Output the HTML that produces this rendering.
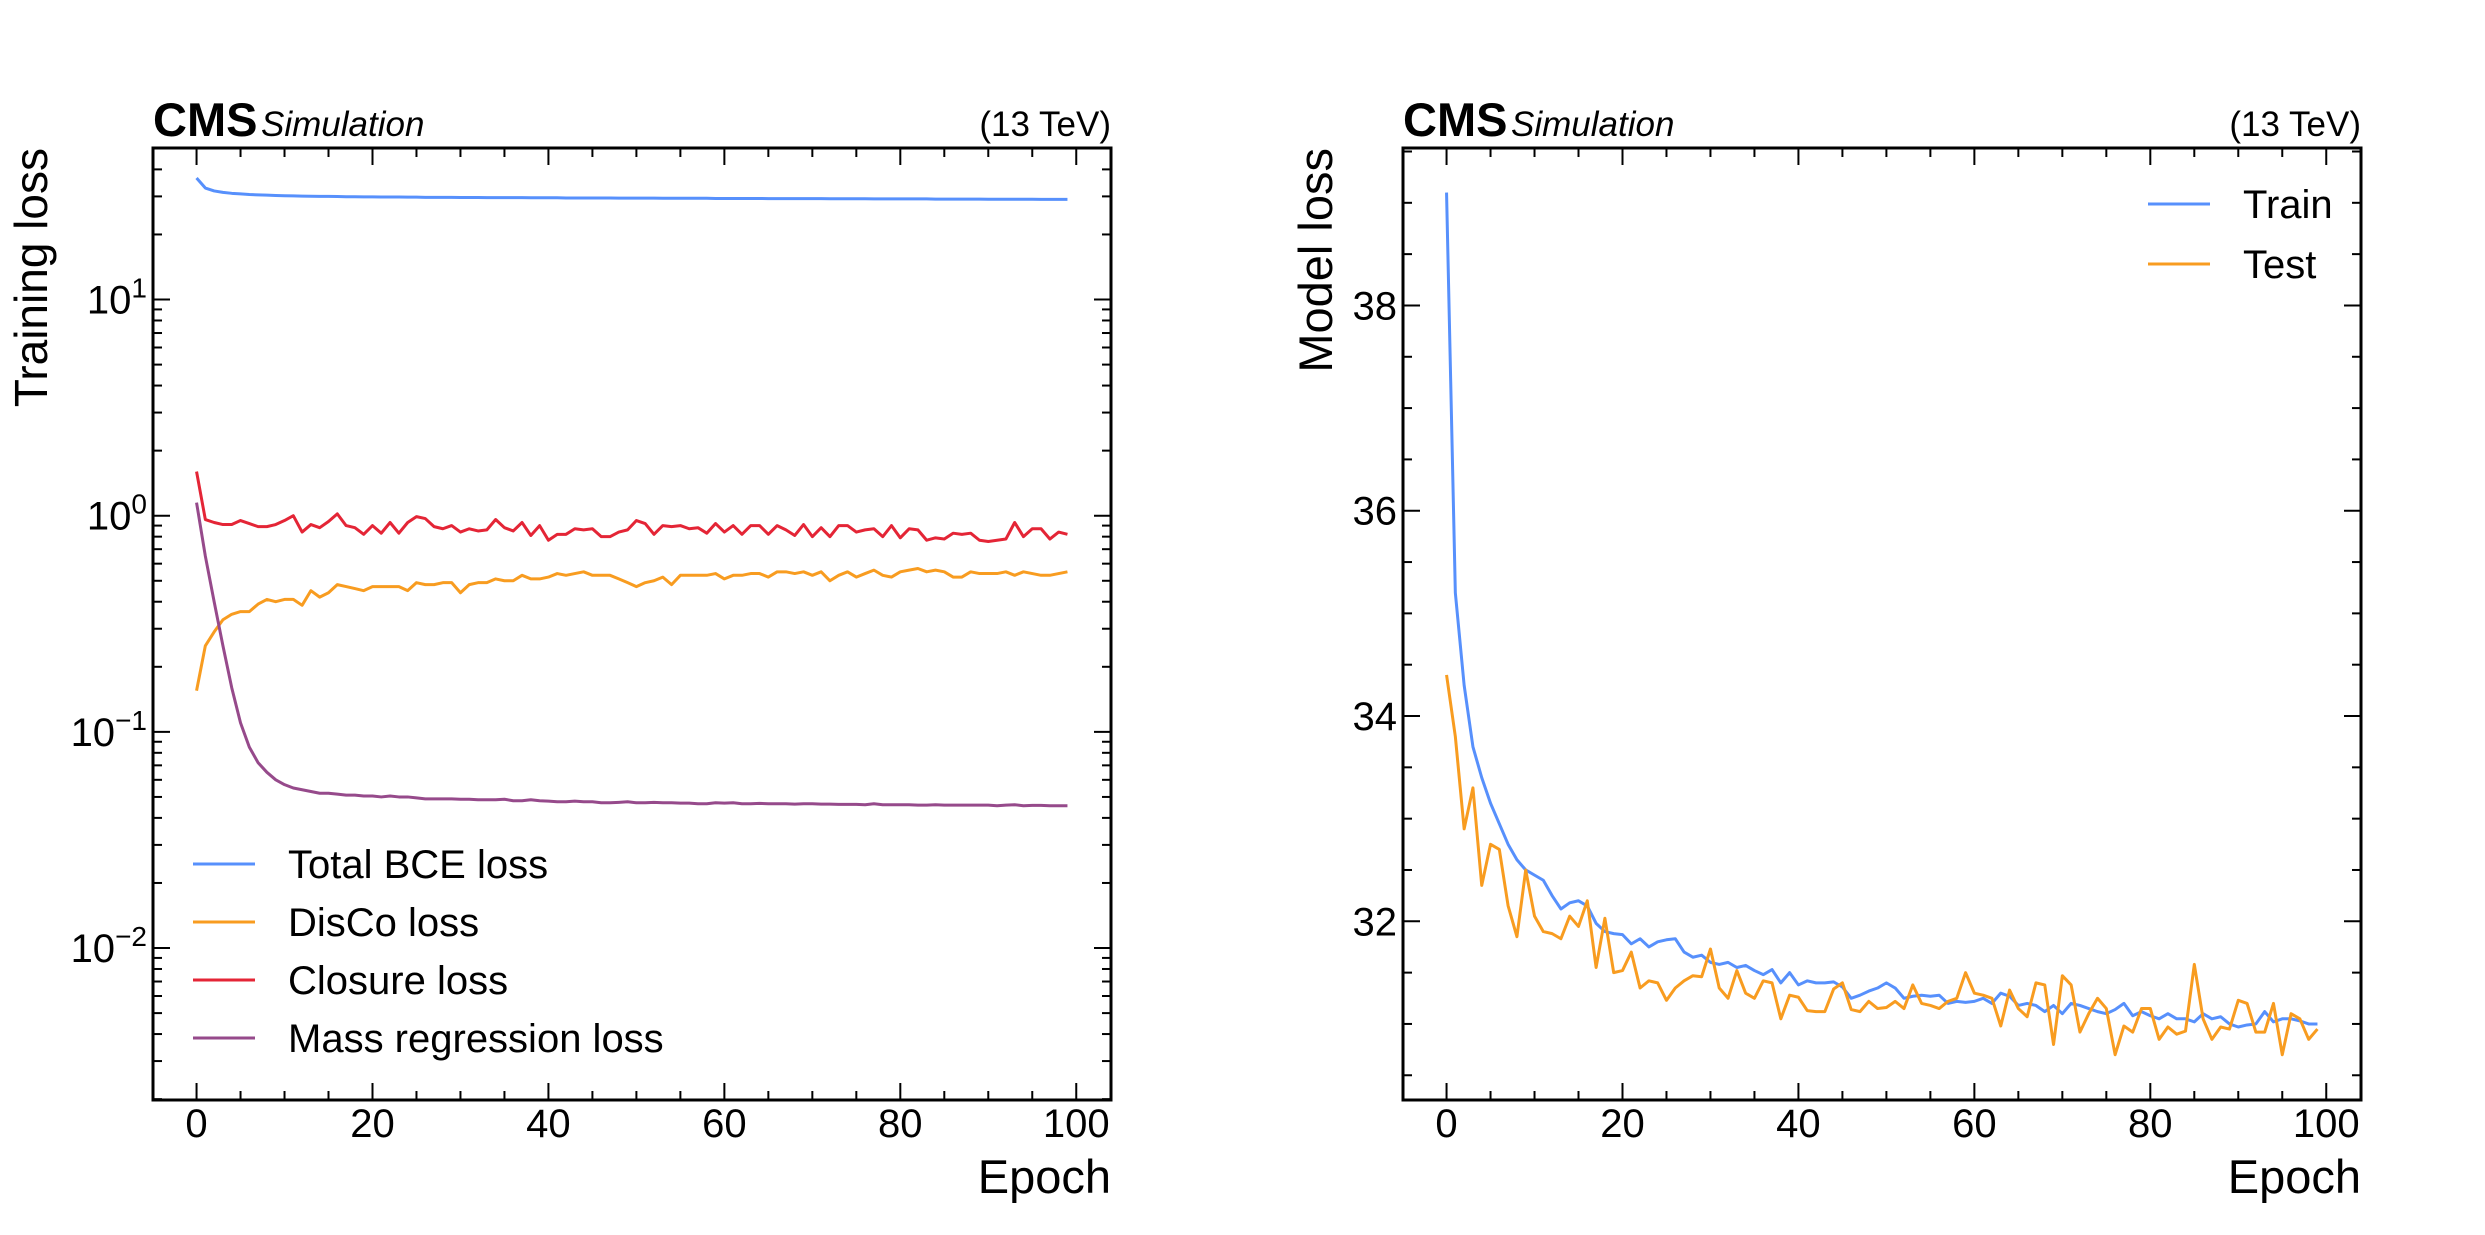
<!DOCTYPE html>
<html><head><meta charset="utf-8"><style>
html,body{margin:0;padding:0;background:#fff;}
svg{display:block;font-family:"Liberation Sans",sans-serif;}
</style></head><body>
<svg id="root" width="2485" height="1235" viewBox="0 0 2485 1235"></svg>
<script>
const epochs = Array.from({length:100},(_,i)=>i);
const bceLoss = [36.5,32.8,31.8,31.3,31.0,30.8,30.6,30.5,30.4,30.3,30.2,30.15,30.1,30.05,30.0,30.0,29.95,29.9,29.9,29.85,29.85,29.8,29.8,29.8,29.75,29.75,29.7,29.7,29.7,29.7,29.65,29.65,29.65,29.6,29.6,29.6,29.6,29.6,29.55,29.55,29.55,29.55,29.5,29.5,29.5,29.5,29.5,29.5,29.45,29.45,29.45,29.45,29.45,29.4,29.4,29.4,29.4,29.4,29.4,29.35,29.35,29.35,29.35,29.35,29.35,29.3,29.3,29.3,29.3,29.3,29.3,29.3,29.25,29.25,29.25,29.25,29.25,29.2,29.2,29.2,29.2,29.2,29.2,29.2,29.15,29.15,29.15,29.15,29.15,29.15,29.1,29.1,29.1,29.1,29.1,29.1,29.05,29.05,29.05,29.05];
const discoLoss = [0.155,0.25,0.29,0.33,0.35,0.36,0.36,0.39,0.41,0.40,0.41,0.41,0.385,0.45,0.42,0.44,0.48,0.47,0.46,0.45,0.47,0.47,0.47,0.47,0.45,0.49,0.48,0.48,0.49,0.49,0.44,0.48,0.49,0.49,0.51,0.5,0.5,0.53,0.51,0.51,0.52,0.54,0.53,0.54,0.55,0.53,0.53,0.53,0.51,0.49,0.47,0.49,0.5,0.52,0.48,0.53,0.53,0.53,0.53,0.54,0.51,0.53,0.53,0.54,0.54,0.52,0.55,0.55,0.54,0.55,0.53,0.55,0.5,0.53,0.55,0.52,0.54,0.56,0.53,0.52,0.55,0.56,0.57,0.55,0.56,0.55,0.52,0.52,0.55,0.54,0.54,0.54,0.55,0.53,0.55,0.54,0.53,0.53,0.54,0.55];
const closureLoss = [1.6,0.96,0.93,0.91,0.91,0.95,0.92,0.89,0.89,0.91,0.95,1.0,0.84,0.91,0.88,0.94,1.02,0.9,0.88,0.82,0.9,0.83,0.93,0.83,0.93,0.99,0.97,0.89,0.87,0.9,0.84,0.87,0.85,0.86,0.96,0.88,0.85,0.93,0.81,0.9,0.77,0.82,0.82,0.87,0.86,0.87,0.8,0.8,0.84,0.86,0.95,0.92,0.82,0.9,0.89,0.9,0.87,0.88,0.83,0.92,0.84,0.9,0.82,0.9,0.9,0.82,0.9,0.86,0.81,0.91,0.8,0.88,0.8,0.9,0.9,0.84,0.86,0.87,0.8,0.9,0.79,0.87,0.86,0.77,0.79,0.78,0.83,0.82,0.83,0.77,0.76,0.77,0.78,0.93,0.8,0.87,0.87,0.78,0.84,0.82];
const massLoss = [1.15,0.65,0.4,0.25,0.16,0.11,0.085,0.072,0.065,0.06,0.057,0.055,0.054,0.053,0.052,0.052,0.0515,0.051,0.051,0.0505,0.0505,0.05,0.0505,0.05,0.05,0.0495,0.049,0.049,0.049,0.049,0.0488,0.0488,0.0485,0.0485,0.0485,0.0488,0.048,0.048,0.0485,0.048,0.0478,0.0475,0.0475,0.0478,0.0475,0.0475,0.047,0.047,0.0472,0.0475,0.047,0.047,0.0472,0.047,0.047,0.0468,0.0468,0.0465,0.0465,0.047,0.0468,0.047,0.0465,0.0465,0.0467,0.0465,0.0465,0.0465,0.0463,0.0465,0.0465,0.0463,0.0463,0.0462,0.0462,0.0462,0.046,0.0465,0.046,0.046,0.046,0.046,0.0458,0.0458,0.046,0.0458,0.0458,0.0458,0.0458,0.0458,0.0458,0.0455,0.0458,0.046,0.0455,0.0457,0.0457,0.0455,0.0455,0.0455];
const trainLoss = [39.1,35.2,34.3,33.7,33.4,33.15,32.95,32.75,32.6,32.5,32.45,32.4,32.25,32.12,32.18,32.2,32.15,31.98,31.9,31.88,31.87,31.78,31.83,31.75,31.8,31.82,31.83,31.7,31.65,31.67,31.6,31.58,31.6,31.55,31.57,31.52,31.48,31.53,31.4,31.5,31.38,31.42,31.4,31.4,31.41,31.36,31.25,31.28,31.32,31.35,31.4,31.35,31.25,31.27,31.28,31.27,31.28,31.2,31.22,31.21,31.22,31.25,31.2,31.3,31.27,31.18,31.2,31.18,31.12,31.18,31.1,31.2,31.18,31.15,31.12,31.1,31.14,31.2,31.08,31.12,31.08,31.05,31.1,31.05,31.05,31.02,31.1,31.05,31.07,31.0,30.97,30.99,31.0,31.12,31.02,31.05,31.05,31.03,31.0,31.0];
const testLoss = [34.4,33.8,32.9,33.3,32.35,32.75,32.7,32.15,31.85,32.5,32.05,31.9,31.88,31.83,32.05,31.95,32.2,31.55,32.03,31.5,31.52,31.7,31.35,31.42,31.4,31.23,31.35,31.42,31.47,31.46,31.73,31.35,31.25,31.52,31.3,31.25,31.42,31.4,31.05,31.28,31.26,31.13,31.12,31.12,31.34,31.4,31.14,31.12,31.22,31.15,31.16,31.22,31.15,31.38,31.2,31.18,31.15,31.22,31.25,31.5,31.3,31.28,31.25,30.98,31.33,31.15,31.07,31.4,31.38,30.8,31.47,31.38,30.92,31.1,31.25,31.15,30.7,30.98,30.92,31.15,31.15,30.85,30.97,30.9,30.93,31.58,31.05,30.85,30.97,30.95,31.23,31.2,30.92,30.92,31.2,30.7,31.1,31.05,30.85,30.95];
const xTicks = [0,20,40,60,80,100];
const logTickExps = [1,0,-1,-2];
const linTicks = [32,34,36,38];

const NS='http://www.w3.org/2000/svg';
const root=document.getElementById('root');
function mk(tag,attrs,parent){const e=document.createElementNS(NS,tag);for(const k in attrs)e.setAttribute(k,attrs[k]);(parent||root).appendChild(e);return e;}
const XMIN=-4.95,XMAX=103.95;
function panel(px0,px1,py0,py1,yfun,name){
  const g=mk('g',{});
  
  
  const xs=v=>px0+(v-XMIN)/(XMAX-XMIN)*(px1-px0);
  return {g,xs,ys:v=>yfun(v),px0,px1,py0,py1};
}
function frame(P){
  const r=mk('rect',{x:P.px0,y:P.py0,width:P.px1-P.px0,height:P.py1-P.py0,fill:'none',stroke:'#000','stroke-width':3},P.g);
  
  
}
function xaxis(P){
  for(let v=0;v<=100;v+=5){
    const x=P.xs(v),L=(v%20===0)?17:9;
    mk('line',{x1:x,x2:x,y1:P.py1,y2:P.py1-L,stroke:'#000','stroke-width':2},P.g);
    mk('line',{x1:x,x2:x,y1:P.py0,y2:P.py0+L,stroke:'#000','stroke-width':2},P.g);
  }
  xTicks.forEach(v=>{
    const t=mk('text',{x:P.xs(v),y:1137,'font-size':40,'text-anchor':'middle'},P.g);
    t.textContent=v;
    
    
  });
  const xl=mk('text',{x:P.px1,y:1193,'font-size':47,'text-anchor':'end'},P.g);
  xl.textContent='Epoch';
  
  
}
function header(P){
  const c=mk('text',{x:P.px0,y:136,'font-size':47,'font-weight':'bold'},P.g);
  c.textContent='CMS';
  
  
  const s=mk('text',{x:P.px0+108,y:136,'font-size':35,'font-style':'italic'},P.g);
  s.textContent='Simulation';
  
  
  const e=mk('text',{x:P.px1,y:136,'font-size':35,'text-anchor':'end'},P.g);
  e.textContent='(13 TeV)';
  
  
}
function series(P,vals,color,name){
  const d=vals.map((v,i)=>(i?'L':'M')+P.xs(epochs[i]).toFixed(2)+' '+P.ys(v).toFixed(2)).join(' ');
  const p=mk('path',{d,fill:'none',stroke:color,'stroke-width':3,'stroke-linejoin':'round'},P.g);
  
  
}
function legend(P,x0,ys,items,name){
  const lg=mk('g',{},P.g);
  
  
  items.forEach((it,i)=>{
    mk('line',{x1:x0,x2:x0+62,y1:ys[i],y2:ys[i],stroke:it[1],'stroke-width':3},lg);
    const t=mk('text',{x:x0+95,y:ys[i]+14,'font-size':40},lg);
    t.textContent=it[0];
    
    
  });
}
const BLUE='#5790fc',ORANGE='#f89c20',RED='#e42536',PURPLE='#964a8b';

const LTOP=1.701,LBOT=-2.703;
const L=panel(153,1111,148,1100,v=>148+(LTOP-Math.log10(v))/(LTOP-LBOT)*(1100-148),'training-loss-panel');
for(let e=-3;e<=1;e++){for(let m=1;m<10;m++){
  const lv=e+Math.log10(m); if(lv<LBOT||lv>LTOP)continue;
  const y=L.ys(Math.pow(10,lv)),len=m===1?17:9;
  mk('line',{x1:L.px0,x2:L.px0+len,y1:y,y2:y,stroke:'#000','stroke-width':2},L.g);
  mk('line',{x1:L.px1,x2:L.px1-len,y1:y,y2:y,stroke:'#000','stroke-width':2},L.g);
}}
logTickExps.forEach(e=>{
  const y=L.ys(Math.pow(10,e));
  const t=mk('text',{x:147,y:y+14,'font-size':40,'text-anchor':'end'},L.g);
  
  
  const a=mk('tspan',{},t);a.textContent='10';
  const b=mk('tspan',{dy:-16,'font-size':28},t);b.textContent=e<0?'\u2212'+(-e):String(e);
});
const yl1=mk('text',{transform:'translate(47,148) rotate(-90)','font-size':46,'text-anchor':'end'},L.g);
yl1.textContent='Training loss';


xaxis(L);header(L);
series(L,bceLoss,BLUE,'total-bce-line');
series(L,discoLoss,ORANGE,'disco-line');
series(L,closureLoss,RED,'closure-line');
series(L,massLoss,PURPLE,'mass-regression-line');
legend(L,193,[864,922,980,1038],[['Total BCE loss',BLUE],['DisCo loss',ORANGE],['Closure loss',RED],['Mass regression loss',PURPLE]],'legend-left');
frame(L);

const RTOP=39.534,RBOT=30.259;
const R=panel(1403,2361,148,1100,v=>148+(RTOP-v)/(RTOP-RBOT)*(1100-148),'model-loss-panel');
for(let v=30.5;v<=39.5;v+=0.5){
  const y=R.ys(v),len=(v%2===0)?17:9;
  mk('line',{x1:R.px0,x2:R.px0+len,y1:y,y2:y,stroke:'#000','stroke-width':2},R.g);
  mk('line',{x1:R.px1,x2:R.px1-len,y1:y,y2:y,stroke:'#000','stroke-width':2},R.g);
}
linTicks.forEach(v=>{
  const t=mk('text',{x:1397,y:R.ys(v)+14,'font-size':40,'text-anchor':'end'},R.g);
  t.textContent=v;
  
  
});
const yl2=mk('text',{transform:'translate(1332,148) rotate(-90)','font-size':47,'text-anchor':'end'},R.g);
yl2.textContent='Model loss';


xaxis(R);header(R);
series(R,trainLoss,BLUE,'train-line');
series(R,testLoss,ORANGE,'test-line');
legend(R,2148,[204,264],[['Train',BLUE],['Test',ORANGE]],'legend-right');
frame(R);
</script>
</body></html>
